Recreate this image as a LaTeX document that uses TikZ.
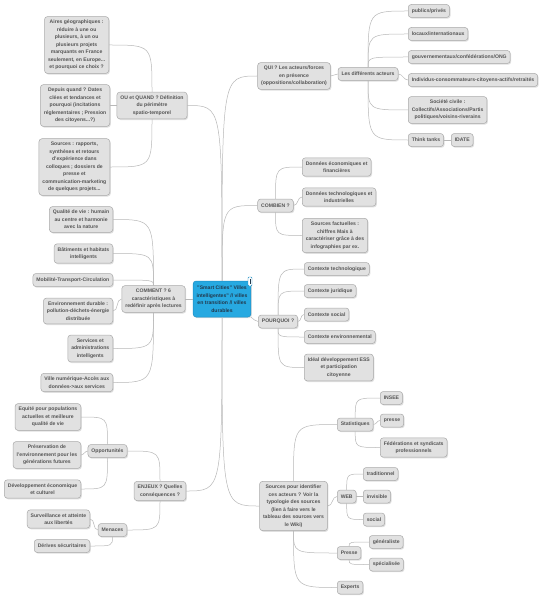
\documentclass[tikz,border=0pt]{standalone}
\usepackage{fontspec}
\setmainfont{Liberation Sans}
\usepackage{xcolor}
\usepackage{tikz}
\usetikzlibrary{positioning,shadows}

\definecolor{boxfill}{HTML}{E1E1E1}
\definecolor{boxline}{HTML}{A9A9A9}
\definecolor{boxtext}{HTML}{555555}
\definecolor{rootfill}{HTML}{27A9E1}
\definecolor{rootline}{HTML}{1C8CC2}
\definecolor{roottext}{HTML}{22384C}
\definecolor{linkgray}{HTML}{B8B8B8}

\begin{document}
\begin{tikzpicture}[
  x=1pt, y=1pt,
  font=\fontsize{5.1}{7.5}\selectfont\bfseries,
  topic/.style={draw=boxline, fill=boxfill, text=boxtext, rounded corners=3pt, align=center,
    inner xsep=3.5pt, inner ysep=3.5pt, minimum height=13pt, line width=0.5pt,
    drop shadow={shadow xshift=1pt, shadow yshift=-1.2pt, opacity=0.25}},
  root/.style={topic, draw=rootline, fill=rootfill, text=roottext, minimum width=56pt, minimum height=36pt},
  link/.style={draw=linkgray, line width=0.5pt},
  branch/.style={to path={.. controls (\tikztostart |- \tikztotarget) .. (\tikztotarget)}},
]
  \useasboundingbox[fill=white] (0,0) rectangle (540,-599);

  % centre
  \node[root] (smart) at (222,-299) {"Smart Cities" Villes\\ intelligentes" // villes\\ en transition // villes\\ durables};
  \node[draw=rootline, fill=white, rounded corners=1pt, minimum width=4pt, minimum height=9pt, inner sep=0pt] (tag) at (250,-281.5) {};
  \draw[roottext, line width=0.6pt] ([yshift=-2pt]tag.north) -- ([yshift=2pt]tag.south);

  % OU et QUAND
  \node[topic] (ou) at (152,-105.5) {OU et QUAND ? Définition\\ du périmètre\\ spatio-temporel};
  \node[topic, anchor=east] (aires) at (109,-45) {Aires géographiques :\\ réduire à une ou\\ plusieurs, à un ou\\ plusieurs projets\\ marquants en France\\ seulement, en Europe...\\ et pourquoi ce choix ?};
  \node[topic, anchor=east] (depuis) at (110,-105.5) {Depuis quand ? Dates\\ clées et tendances et\\ pourquoi (incitations\\ réglementaires ; Pression\\ des citoyens...?)};
  \node[topic, anchor=east] (docs) at (110,-167) {Sources : rapports,\\ synthèses et retours\\ d'expérience dans\\ colloques ; dossiers de\\ presse et\\ communication-marketing\\ de quelques projets...};

  % COMMENT
  \node[topic] (comment) at (153.5,-299) {COMMENT ? 6\\ caractéristiques à\\ redéfinir après lectures};
  \node[topic, anchor=east] (qualite) at (113,-219.5) {Qualité de vie : humain\\ au centre et harmonie\\ avec la nature};
  \node[topic, anchor=east] (batiments) at (113,-253.5) {Bâtiments et habitats\\ intelligents};
  \node[topic, anchor=east] (mobilite) at (113,-280) {Mobilité-Transport-Circulation};
  \node[topic, anchor=east] (environnement) at (113,-311) {Environnement durable :\\ pollution-déchets-énergie\\ distribuée};
  \node[topic, anchor=east] (services) at (113,-348.5) {Services et\\ administrations\\ intelligents};
  \node[topic, anchor=east] (numerique) at (113,-382.5) {Ville numérique-Accès aux\\ données->aux services};

  % ENJEUX
  \node[topic] (enjeux) at (160,-491) {ENJEUX ? Quelles\\ conséquences ?};
  \node[topic] (opport) at (107.5,-451) {Opportunités};
  \node[topic, anchor=east] (equite) at (81,-417) {Equité pour populations\\ actuelles et meilleure\\ qualité de vie};
  \node[topic, anchor=east] (preservation) at (81,-455) {Préservation de\\ l'environnement pour les\\ générations futures};
  \node[topic, anchor=east] (developpement) at (81,-489) {Développement économique\\ et culturel};
  \node[topic] (menaces) at (112.5,-530) {Menaces};
  \node[topic, anchor=east] (surveillance) at (90,-519) {Surveillance et atteinte\\ aux libertés};
  \node[topic, anchor=east] (derives) at (90,-546) {Dérives sécuritaires};

  % QUI
  \node[topic] (qui) at (294,-76) {QUI ? Les acteurs/forces\\ en présence\\ (oppositions/collaboration)};
  \node[topic] (acteurs) at (368,-74) {Les différents acteurs};
  \node[topic, anchor=west] (publics) at (408,-11) {publics/privés};
  \node[topic, anchor=west] (locaux) at (408,-34) {locaux/internationaux};
  \node[topic, anchor=west] (gouv) at (408,-57) {gouvernementaux/confédérations/ONG};
  \node[topic, anchor=west] (individus) at (408,-80) {Individus-consommateurs-citoyens-actifs/retraités};
  \node[topic, anchor=west] (societe) at (408,-110) {Société civile :\\ Collectifs/Associations/Partis\\ politiques/voisins-riverains};
  \node[topic, anchor=west] (think) at (408,-140) {Think tanks};
  \node[topic, anchor=west] (idate) at (451,-140) {IDATE};

  % COMBIEN
  \node[topic] (combien) at (275.5,-205.5) {COMBIEN ?};
  \node[topic, anchor=west] (donneco) at (302,-167) {Données économiques et\\ financières};
  \node[topic, anchor=west] (donntech) at (302,-197) {Données technologiques et\\ industrielles};
  \node[topic, anchor=west] (factuelles) at (302,-235.5) {Sources factuelles :\\ chiffres Mais à\\ caractériser grâce à des\\ infographies par ex.};

  % POURQUOI
  \node[topic] (pourquoi) at (278,-321.5) {POURQUOI ?};
  \node[topic, anchor=west] (ctech) at (304,-269) {Contexte technologique};
  \node[topic, anchor=west] (cjur) at (304,-291) {Contexte juridique};
  \node[topic, anchor=west] (csoc) at (304,-314.5) {Contexte social};
  \node[topic, anchor=west] (cenv) at (304,-337) {Contexte environnemental};
  \node[topic, anchor=west] (ideal) at (304,-367.5) {Idéal développement ESS\\ et participation\\ citoyenne};

  % Sources
  \node[topic] (sources) at (293.5,-506) {Sources pour identifier\\ ces acteurs ? Voir la\\ typologie des sources\\ (lien à faire vers le\\ tableau des sources vers\\ le Wiki)};
  \node[topic, anchor=west] (stats) at (337,-424.5) {Statistiques};
  \node[topic, anchor=west] (insee) at (380,-398) {INSEE};
  \node[topic, anchor=west] (pressestat) at (380,-420.5) {presse};
  \node[topic, anchor=west] (federations) at (380,-447.5) {Fédérations et syndicats\\ professionnels};
  \node[topic, anchor=west] (web) at (337,-496.5) {WEB};
  \node[topic, anchor=west] (trad) at (363,-474) {traditionnel};
  \node[topic, anchor=west] (invisible) at (363,-496.5) {invisible};
  \node[topic, anchor=west] (social) at (363,-519.5) {social};
  \node[topic, anchor=west] (presse) at (337,-553) {Presse};
  \node[topic, anchor=west] (generaliste) at (369,-542) {généraliste};
  \node[topic, anchor=west] (specialisee) at (369,-564.5) {spécialisée};
  \node[topic, anchor=west] (experts) at (337,-587.5) {Experts};

  % branches from the centre
  \draw[link] (smart.north) to[branch] (ou.east);
  \draw[link] (smart.north) to[branch] (qui.west);
  \draw[link] (smart.north) to[branch] (combien.west);
  \draw[link] (smart.west) -- (comment.east);
  \draw[link] (smart.south east) to[out=-30, in=180] (pourquoi.west);
  \draw[link] (smart.south) to[branch] (enjeux.east);
  \draw[link] (smart.south) to[branch] (sources.west);

  % left side
  \draw[link] (ou.north) to[branch] (aires.east);
  \draw[link] (ou.west) -- (depuis.east);
  \draw[link] (ou.south) to[branch] (docs.east);
  \draw[link] (comment.north) to[branch] (qualite.east);
  \draw[link] (comment.north) to[branch] (batiments.east);
  \draw[link] (comment.north) to[branch] (mobilite.east);
  \draw[link] (comment.west) to[out=180, in=0] (environnement.east);
  \draw[link] (comment.south) to[branch] (services.east);
  \draw[link] (comment.south) to[branch] (numerique.east);
  \draw[link] (enjeux.north) to[branch] (opport.east);
  \draw[link] (enjeux.south) to[branch] (menaces.east);
  \draw[link] (opport.north) to[branch] (equite.east);
  \draw[link] (opport.west) to[out=180, in=0] (preservation.east);
  \draw[link] (opport.south) to[branch] (developpement.east);
  \draw[link] (menaces.west) to[out=180, in=0] (surveillance.east);
  \draw[link] (menaces.south) to[branch] (derives.east);

  % right side
  \draw[link] (qui.east) to[out=0, in=180] (acteurs.west);
  \draw[link] (acteurs.north) to[branch] (publics.west);
  \draw[link] (acteurs.north) to[branch] (locaux.west);
  \draw[link] (acteurs.north) to[branch] (gouv.west);
  \draw[link] (acteurs.east) to[out=0, in=180] (individus.west);
  \draw[link] (acteurs.south) to[branch] (societe.west);
  \draw[link] (acteurs.south) to[branch] (think.west);
  \draw[link] (think.east) -- (idate.west);
  \draw[link] (combien.north) to[branch] (donneco.west);
  \draw[link] (combien.east) to[out=0, in=180] (donntech.west);
  \draw[link] (combien.south) to[branch] (factuelles.west);
  \draw[link] (pourquoi.north) to[branch] (ctech.west);
  \draw[link] (pourquoi.north) to[branch] (cjur.west);
  \draw[link] (pourquoi.east) to[out=0, in=180] (csoc.west);
  \draw[link] (pourquoi.south) to[branch] (cenv.west);
  \draw[link] (pourquoi.south) to[branch] (ideal.west);
  \draw[link] (sources.north) to[branch] (stats.west);
  \draw[link] (sources.east) to[out=0, in=180] (web.west);
  \draw[link] (sources.south) to[branch] (presse.west);
  \draw[link] (sources.south) to[branch] (experts.west);
  \draw[link] (stats.north) to[branch] (insee.west);
  \draw[link] (stats.east) to[out=0, in=180] (pressestat.west);
  \draw[link] (stats.south) to[branch] (federations.west);
  \draw[link] (web.north) to[branch] (trad.west);
  \draw[link] (web.east) -- (invisible.west);
  \draw[link] (web.south) to[branch] (social.west);
  \draw[link] (presse.north) to[branch] (generaliste.west);
  \draw[link] (presse.south) to[branch] (specialisee.west);
\end{tikzpicture}
\end{document}
